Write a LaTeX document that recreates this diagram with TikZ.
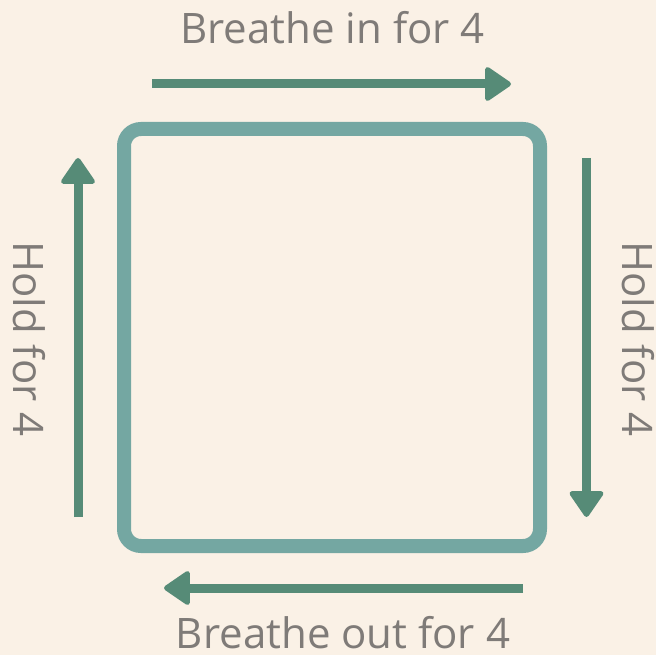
\documentclass[tikz,border=0pt]{standalone}
\usepackage{fontspec}
\setmainfont{Open Sans}
\usetikzlibrary{arrows.meta}
\definecolor{bgcol}{HTML}{FAF1E6}
\definecolor{txtcol}{HTML}{7F7B78}
\definecolor{arrcol}{HTML}{568B77}
\definecolor{sqcol}{HTML}{74A7A2}
\tikzset{
  arr/.style={draw=arrcol, line width=9pt, -{Triangle[length=28pt, width=37pt, round, line width=5pt]}, arrcol},
  lbl/.style={text=txtcol, inner sep=0pt, anchor=base, font=\fontsize{42pt}{50pt}\selectfont},
  sqbox/.style={draw=sqcol, line width=14pt, rounded corners=17pt, minimum width=416pt, minimum height=417pt, inner sep=0pt}
}
\begin{document}
\begin{tikzpicture}[x=1pt, y=-1pt]
\fill[bgcol] (0,0) rectangle (656,655);
\useasboundingbox (0,0) rectangle (656,655);
\node[sqbox] (box) at (332,337.5) {};
\coordinate (ts) at (152,84);
\coordinate (te) at (511,84);
\coordinate (rs) at (586.5,158);
\coordinate (re) at (586.5,517);
\coordinate (bs) at (523,588);
\coordinate (be) at (164,588);
\coordinate (ls) at (78,517);
\coordinate (le) at (78,158);
\draw[arr] (ts) -- (te);
\draw[arr] (rs) -- (re);
\draw[arr] (bs) -- (be);
\draw[arr] (ls) -- (le);
\node[lbl] (tin) at (332.5,44) {Breathe in for 4};
\node[lbl] (tout) at (343,648) {Breathe out for 4};
\node[lbl, rotate=-90] (tl) at (13,339) {Hold for 4};
\node[lbl, rotate=-90] (tr) at (622,339) {Hold for 4};
\end{tikzpicture}
\end{document}
